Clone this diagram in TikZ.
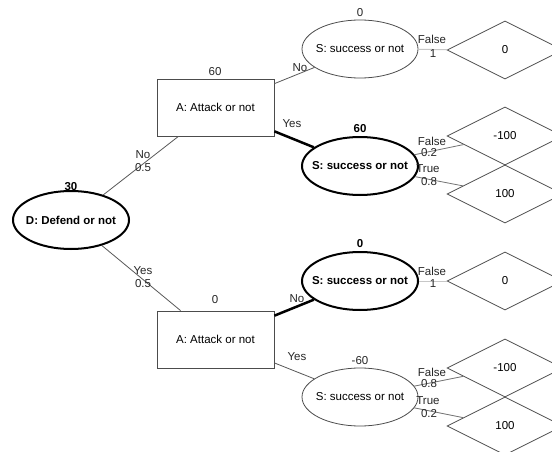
\documentclass[tikz,border=0pt]{standalone}
\usepackage{fontspec}
\setmainfont{Liberation Sans}
\usetikzlibrary{shapes.geometric}
\begin{document}
\begin{tikzpicture}[x=1pt,y=-1pt,
  font=\fontsize{11.5}{13}\selectfont,
  ell/.style={ellipse, draw=black!70, line width=0.8pt, minimum width=116pt, minimum height=58pt, inner sep=0pt},
  bell/.style={ellipse, draw=black, line width=2pt, minimum width=116pt, minimum height=58pt, inner sep=0pt, font=\fontsize{11.5}{13}\selectfont\bfseries},
  decbox/.style={rectangle, draw=black!70, line width=0.8pt, minimum width=117pt, minimum height=57pt, inner sep=0pt},
  leaf/.style={diamond, draw=black!70, line width=0.8pt, minimum width=116pt, minimum height=58pt, inner sep=0pt},
  lbl/.style={inner sep=0pt, text=black!85},
  blbl/.style={inner sep=0pt, font=\fontsize{11.5}{13}\selectfont\bfseries},
  edgeline/.style={draw=black!65, line width=0.8pt},
  boldedge/.style={draw=black, line width=2.5pt},
  paleedge/.style={draw=black!22, line width=1pt},
  greyedge/.style={draw=black!55, line width=0.8pt}]
\fill[white] (0,0) rectangle (552,452);
\clip (0,0) rectangle (552,452);

% nodes
\node[bell] (D) at (71,220) {\makebox[0pt]{D: Defend or not}};
\node[decbox] (A1) at (215.5,107.5) {\makebox[0pt]{A: Attack or not}};
\node[decbox] (A2) at (215.5,339.5) {\makebox[0pt]{A: Attack or not}};
\node[ell] (S1) at (360,49) {\makebox[0pt]{S: success or not}};
\node[bell] (S2) at (360,166) {\makebox[0pt]{S: success or not}};
\node[bell] (S3) at (360,281) {\makebox[0pt]{S: success or not}};
\node[ell] (S4) at (360,397) {\makebox[0pt]{S: success or not}};
\node[leaf] (L1) at (505,50) {0};
\node[leaf] (L2) at (505,136) {-100};
\node[leaf] (L3) at (505,194) {100};
\node[leaf] (L4) at (505,281) {0};
\node[leaf] (L5) at (505,368) {-100};
\node[leaf] (L6) at (505,426) {100};

% value labels
\node[blbl] (vD) at (71,187) {30};
\node[lbl] (vA1) at (215,72) {60};
\node[lbl] (vA2) at (215,300) {0};
\node[lbl] (vS1) at (360,13) {0};
\node[blbl] (vS2) at (360,129) {60};
\node[blbl] (vS3) at (360,244) {0};
\node[lbl] (vS4) at (360,361) {-60};

% connectors
\draw[edgeline] (D) -- (A1);
\draw[edgeline] (D) -- (A2);
\draw[edgeline] (A1) -- (S1);
\draw[boldedge] (A1) -- (S2);
\draw[boldedge] (A2) -- (S3);
\draw[edgeline] (A2) -- (S4);
\draw[paleedge] (S1) -- (L1);
\draw[greyedge] (S2) -- (L2);
\draw[greyedge] (S2) -- (L3);
\draw[paleedge] (S3) -- (L4);
\draw[greyedge] (S4) -- (L5);
\draw[greyedge] (S4) -- (L6);

% edge labels
\node[lbl] (eDA1a) at (143,155) {No};
\node[lbl] (eDA1b) at (143,167.5) {0.5};
\node[lbl] (eDA2a) at (143,271) {Yes};
\node[lbl] (eDA2b) at (143,283.5) {0.5};
\node[lbl] (eA1S1) at (300,68) {No};
\node[lbl] (eA1S2) at (292,124) {Yes};
\node[lbl] (eA2S3) at (297,299) {No};
\node[lbl] (eA2S4) at (297,357) {Yes};

\node[lbl] (e11) at (432,39) {False};
\node[lbl] (e12) at (433,54) {1};
\node[lbl] (e21) at (432,141) {False};
\node[lbl] (e22) at (429,153) {0.2};
\node[lbl] (e31) at (428,169) {True};
\node[lbl] (e32) at (429,182) {0.8};
\node[lbl] (e41) at (432,271) {False};
\node[lbl] (e42) at (433,284) {1};
\node[lbl] (e51) at (432,372) {False};
\node[lbl] (e52) at (429,384) {0.8};
\node[lbl] (e61) at (428,401) {True};
\node[lbl] (e62) at (429,414) {0.2};
\end{tikzpicture}
\end{document}
